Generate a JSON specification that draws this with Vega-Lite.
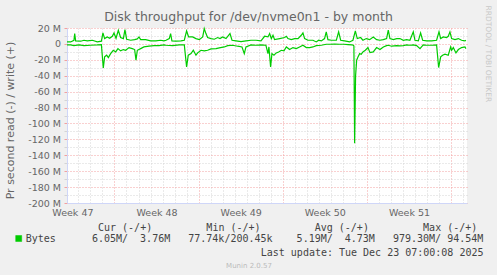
{
  "$schema": "https://vega.github.io/schema/vega-lite/v6.json",
  "width": 400,
  "height": 175,
  "autosize": {"type": "none"},
  "padding": {"left": 67, "top": 28, "right": 30, "bottom": 72},
  "background": "#f0f0f0",
  "title": {"text": "Disk throughput for /dev/nvme0n1 - by month", "font": "DejaVu Sans", "fontSize": 12.5, "fontWeight": "normal", "color": "#666666", "anchor": "middle", "dx": -18.5, "dy": 22},
  "datasets": {
    "read": [
      {"day": 3.05, "bytes_m": -1.3}, {"day": 3.35, "bytes_m": -1.3}, {"day": 3.63, "bytes_m": -2.1}, {"day": 4.05, "bytes_m": -1.3}, {"day": 4.46, "bytes_m": -2.1}, {"day": 5.02, "bytes_m": -1.7}, {"day": 5.57, "bytes_m": -1.3}, {"day": 5.91, "bytes_m": -0.8}, {"day": 6.07, "bytes_m": -30.2}, {"day": 6.18, "bytes_m": -16.3}, {"day": 6.35, "bytes_m": -14.2}, {"day": 6.49, "bytes_m": -17.2}, {"day": 6.68, "bytes_m": -12.2}, {"day": 6.9, "bytes_m": -8.0}, {"day": 7.1, "bytes_m": -10.1}, {"day": 7.29, "bytes_m": -5.9}, {"day": 7.51, "bytes_m": -8.8}, {"day": 7.74, "bytes_m": -7.1}, {"day": 7.93, "bytes_m": -8.0}, {"day": 8.21, "bytes_m": -4.6}, {"day": 8.48, "bytes_m": -5.9}, {"day": 8.68, "bytes_m": -7.1}, {"day": 8.79, "bytes_m": -20.5}, {"day": 8.9, "bytes_m": -8.0}, {"day": 9.18, "bytes_m": -5.9}, {"day": 9.45, "bytes_m": -3.8}, {"day": 9.87, "bytes_m": -2.9}, {"day": 10.29, "bytes_m": -2.1}, {"day": 10.7, "bytes_m": -2.1}, {"day": 11.12, "bytes_m": -1.3},
      {"day": 11.29, "bytes_m": -1.7}, {"day": 11.84, "bytes_m": -2.1}, {"day": 12.39, "bytes_m": -1.3}, {"day": 12.81, "bytes_m": -1.3}, {"day": 13.0, "bytes_m": -28.9}, {"day": 13.14, "bytes_m": -14.2}, {"day": 13.37, "bytes_m": -12.2}, {"day": 13.56, "bytes_m": -8.0}, {"day": 13.78, "bytes_m": -14.2}, {"day": 13.92, "bytes_m": -11.3}, {"day": 14.2, "bytes_m": -8.0}, {"day": 14.47, "bytes_m": -8.8}, {"day": 14.75, "bytes_m": -8.0}, {"day": 15.03, "bytes_m": -6.3}, {"day": 15.45, "bytes_m": -5.9}, {"day": 15.72, "bytes_m": -5.0}, {"day": 16.14, "bytes_m": -3.8}, {"day": 16.42, "bytes_m": -2.1}, {"day": 16.83, "bytes_m": -1.7}, {"day": 17.25, "bytes_m": -2.9}, {"day": 17.61, "bytes_m": -3.8}, {"day": 17.8, "bytes_m": -12.2}, {"day": 17.94, "bytes_m": -3.8}, {"day": 18.36, "bytes_m": -1.3}, {"day": 18.77, "bytes_m": -1.7}, {"day": 19.19, "bytes_m": -1.3}, {"day": 19.6, "bytes_m": -1.7},
      {"day": 19.77, "bytes_m": -12.2}, {"day": 19.85, "bytes_m": -3.8}, {"day": 19.99, "bytes_m": -28.9}, {"day": 20.1, "bytes_m": -12.2}, {"day": 20.27, "bytes_m": -14.2}, {"day": 20.46, "bytes_m": -11.3}, {"day": 20.66, "bytes_m": -10.1}, {"day": 20.88, "bytes_m": -8.0}, {"day": 21.1, "bytes_m": -8.8}, {"day": 21.3, "bytes_m": -3.8}, {"day": 21.57, "bytes_m": -7.1}, {"day": 21.85, "bytes_m": -4.6}, {"day": 22.13, "bytes_m": -5.9}, {"day": 22.4, "bytes_m": -3.8}, {"day": 22.68, "bytes_m": -1.7}, {"day": 22.96, "bytes_m": -4.6}, {"day": 23.24, "bytes_m": -4.6}, {"day": 23.51, "bytes_m": -3.8}, {"day": 23.79, "bytes_m": -2.1}, {"day": 24.21, "bytes_m": -1.7}, {"day": 24.62, "bytes_m": -0.4}, {"day": 24.9, "bytes_m": -0.4}, {"day": 25.32, "bytes_m": -0.3}, {"day": 25.73, "bytes_m": -0.4}, {"day": 26.09, "bytes_m": -0.4}, {"day": 26.43, "bytes_m": -0.8}, {"day": 26.76, "bytes_m": -1.3}, {"day": 26.87, "bytes_m": -1.7}, {"day": 26.92, "bytes_m": -2.5}, {"day": 26.98, "bytes_m": -125.0}, {"day": 27.06, "bytes_m": -40.0}, {"day": 27.15, "bytes_m": -20.5}, {"day": 27.26, "bytes_m": -16.3}, {"day": 27.4, "bytes_m": -12.2}, {"day": 27.53, "bytes_m": -13.0}, {"day": 27.67, "bytes_m": -10.1}, {"day": 27.87, "bytes_m": -8.0}, {"day": 28.09, "bytes_m": -4.6},
      {"day": 28.26, "bytes_m": -11.0}, {"day": 28.53, "bytes_m": -10.1}, {"day": 28.81, "bytes_m": -4.6}, {"day": 29.09, "bytes_m": -7.1}, {"day": 29.37, "bytes_m": -3.8}, {"day": 29.64, "bytes_m": -2.1}, {"day": 29.78, "bytes_m": -1.7}, {"day": 30.06, "bytes_m": -2.9}, {"day": 30.48, "bytes_m": -2.1}, {"day": 30.75, "bytes_m": -2.5}, {"day": 31.03, "bytes_m": -2.1}, {"day": 31.31, "bytes_m": -1.3}, {"day": 31.58, "bytes_m": -1.7}, {"day": 31.86, "bytes_m": -1.3}, {"day": 32.14, "bytes_m": -2.1}, {"day": 32.42, "bytes_m": -5.9}, {"day": 32.69, "bytes_m": -1.3}, {"day": 32.97, "bytes_m": -1.7}, {"day": 33.39, "bytes_m": -1.7}, {"day": 33.8, "bytes_m": -1.3}, {"day": 33.97, "bytes_m": -29.7}, {"day": 34.14, "bytes_m": -16.3}, {"day": 34.3, "bytes_m": -14.2}, {"day": 34.5, "bytes_m": -13.0}, {"day": 34.77, "bytes_m": -14.2}, {"day": 34.97, "bytes_m": -3.8}, {"day": 35.05, "bytes_m": -8.0}, {"day": 35.19, "bytes_m": -4.6}, {"day": 35.41, "bytes_m": -11.3}, {"day": 35.61, "bytes_m": -7.1}, {"day": 35.88, "bytes_m": -4.6}, {"day": 36.16, "bytes_m": -3.8}, {"day": 36.24, "bytes_m": -5.9}
    ],
    "write": [
      {"day": 3.05, "bytes_m": 2.5}, {"day": 3.35, "bytes_m": 2.5}, {"day": 3.63, "bytes_m": 4.6}, {"day": 3.69, "bytes_m": 13.0}, {"day": 3.77, "bytes_m": 3.8}, {"day": 4.19, "bytes_m": 3.4}, {"day": 4.46, "bytes_m": 4.6}, {"day": 4.74, "bytes_m": 3.8}, {"day": 5.16, "bytes_m": 4.6}, {"day": 5.57, "bytes_m": 2.5}, {"day": 5.91, "bytes_m": 3.4}, {"day": 6.04, "bytes_m": 13.8}, {"day": 6.18, "bytes_m": 6.7}, {"day": 6.4, "bytes_m": 8.8}, {"day": 6.6, "bytes_m": 7.1}, {"day": 6.82, "bytes_m": 9.6}, {"day": 6.96, "bytes_m": 13.8}, {"day": 7.13, "bytes_m": 7.1}, {"day": 7.32, "bytes_m": 17.2}, {"day": 7.51, "bytes_m": 8.0}, {"day": 7.74, "bytes_m": 6.7}, {"day": 7.87, "bytes_m": 18.0}, {"day": 8.01, "bytes_m": 5.9}, {"day": 8.35, "bytes_m": 4.6}, {"day": 8.68, "bytes_m": 5.4}, {"day": 8.9, "bytes_m": 6.3}, {"day": 9.04, "bytes_m": 8.8}, {"day": 9.18, "bytes_m": 5.4}, {"day": 9.59, "bytes_m": 5.4}, {"day": 10.01, "bytes_m": 3.8}, {"day": 10.43, "bytes_m": 3.8}, {"day": 10.84, "bytes_m": 4.6}, {"day": 11.12, "bytes_m": 3.8},
      {"day": 11.29, "bytes_m": 4.6}, {"day": 11.56, "bytes_m": 6.7}, {"day": 11.67, "bytes_m": 13.0}, {"day": 11.78, "bytes_m": 3.8}, {"day": 12.12, "bytes_m": 3.4}, {"day": 12.53, "bytes_m": 3.8}, {"day": 12.81, "bytes_m": 4.6}, {"day": 13.0, "bytes_m": 16.3}, {"day": 13.17, "bytes_m": 8.8}, {"day": 13.5, "bytes_m": 8.8}, {"day": 13.78, "bytes_m": 6.7}, {"day": 14.06, "bytes_m": 5.4}, {"day": 14.34, "bytes_m": 8.8}, {"day": 14.47, "bytes_m": 19.3}, {"day": 14.61, "bytes_m": 13.0}, {"day": 14.75, "bytes_m": 8.0}, {"day": 15.03, "bytes_m": 6.7}, {"day": 15.31, "bytes_m": 5.9}, {"day": 15.58, "bytes_m": 8.0}, {"day": 15.78, "bytes_m": 6.7}, {"day": 16.0, "bytes_m": 8.8}, {"day": 16.28, "bytes_m": 6.7}, {"day": 16.61, "bytes_m": 13.0}, {"day": 16.78, "bytes_m": 4.6}, {"day": 17.11, "bytes_m": 3.8}, {"day": 17.53, "bytes_m": 2.9}, {"day": 17.94, "bytes_m": 3.8}, {"day": 18.36, "bytes_m": 4.6}, {"day": 18.77, "bytes_m": 4.6}, {"day": 19.19, "bytes_m": 3.8}, {"day": 19.49, "bytes_m": 9.6},
      {"day": 19.77, "bytes_m": 8.8}, {"day": 19.91, "bytes_m": 13.0}, {"day": 20.05, "bytes_m": 6.7}, {"day": 20.19, "bytes_m": 10.9}, {"day": 20.32, "bytes_m": 5.4}, {"day": 20.74, "bytes_m": 6.7}, {"day": 21.16, "bytes_m": 8.0}, {"day": 21.3, "bytes_m": 9.6}, {"day": 21.43, "bytes_m": 6.7}, {"day": 21.71, "bytes_m": 5.4}, {"day": 21.99, "bytes_m": 6.7}, {"day": 22.27, "bytes_m": 6.7}, {"day": 22.54, "bytes_m": 10.9}, {"day": 22.68, "bytes_m": 13.8}, {"day": 22.82, "bytes_m": 6.7}, {"day": 23.1, "bytes_m": 4.6}, {"day": 23.51, "bytes_m": 4.6}, {"day": 23.79, "bytes_m": 2.5}, {"day": 23.99, "bytes_m": 4.6}, {"day": 24.21, "bytes_m": 3.8}, {"day": 24.48, "bytes_m": 6.7}, {"day": 24.62, "bytes_m": 15.1}, {"day": 24.76, "bytes_m": 5.4}, {"day": 25.04, "bytes_m": 4.6}, {"day": 25.46, "bytes_m": 4.6}, {"day": 25.65, "bytes_m": 15.1}, {"day": 25.82, "bytes_m": 4.6}, {"day": 26.15, "bytes_m": 3.8}, {"day": 26.56, "bytes_m": 2.5}, {"day": 26.84, "bytes_m": 4.6}, {"day": 27.04, "bytes_m": 16.3}, {"day": 27.2, "bytes_m": 6.7}, {"day": 27.48, "bytes_m": 8.0}, {"day": 27.67, "bytes_m": 4.6}, {"day": 27.95, "bytes_m": 6.7}, {"day": 28.23, "bytes_m": 5.4},
      {"day": 28.53, "bytes_m": 8.8}, {"day": 28.81, "bytes_m": 5.4}, {"day": 29.09, "bytes_m": 4.6}, {"day": 29.37, "bytes_m": 5.4}, {"day": 29.64, "bytes_m": 6.7}, {"day": 29.78, "bytes_m": 17.2}, {"day": 29.92, "bytes_m": 6.7}, {"day": 30.2, "bytes_m": 5.4}, {"day": 30.48, "bytes_m": 6.7}, {"day": 30.75, "bytes_m": 6.7}, {"day": 31.03, "bytes_m": 4.6}, {"day": 31.31, "bytes_m": 5.4}, {"day": 31.58, "bytes_m": 4.6}, {"day": 31.86, "bytes_m": 15.1}, {"day": 32.0, "bytes_m": 4.6}, {"day": 32.28, "bytes_m": 3.8}, {"day": 32.47, "bytes_m": 13.8}, {"day": 32.64, "bytes_m": 4.6}, {"day": 32.97, "bytes_m": 3.8}, {"day": 33.39, "bytes_m": 3.8}, {"day": 33.8, "bytes_m": 4.6}, {"day": 34.0, "bytes_m": 15.1}, {"day": 34.14, "bytes_m": 6.7}, {"day": 34.36, "bytes_m": 8.8}, {"day": 34.63, "bytes_m": 8.0}, {"day": 34.77, "bytes_m": 9.6}, {"day": 34.91, "bytes_m": 15.1}, {"day": 35.05, "bytes_m": 6.7}, {"day": 35.33, "bytes_m": 5.4}, {"day": 35.61, "bytes_m": 6.7}, {"day": 35.88, "bytes_m": 4.6}, {"day": 36.16, "bytes_m": 3.8}, {"day": 36.24, "bytes_m": 4.6}
    ]
  },
  "resolve": {"axis": {"x": "independent", "y": "independent"}},
  "layer": [
    {
      "data": {"name": "read"},
      "mark": {"type": "line", "strokeWidth": 1.2},
      "encoding": {
        "x": {"field": "day", "type": "quantitative",
          "scale": {"domain": [3.05, 36.33], "nice": false, "zero": false},
          "axis": {"orient": "bottom", "values": [4,5,6,7,8,9,10,11,12,13,14,15,16,17,18,19,20,21,22,23,24,25,26,27,28,29,30,31,32,33,34,35,36],
            "labels": false, "ticks": false, "domain": true, "domainColor": "#CFD6F8", "domainWidth": 1,
            "grid": true, "gridColor": {"condition": {"test": "datum.value % 7 === 0", "value": "#f2a0a0"}, "value": "#d4d4d4"}, "gridDash": [1, 2], "gridWidth": 1,
            "title": "Last update: Tue Dec 23 07:00:08 2025", "titleFont": "DejaVu Sans Mono", "titleFontSize": 10, "titleFontWeight": "normal", "titleColor": "#444444",
            "titleX": 416, "titleY": 52.3, "titleAlign": "right", "titleBaseline": "alphabetic", "titleAngle": 0}},
        "y": {"field": "bytes_m", "type": "quantitative",
          "scale": {"domain": [-200, 20], "nice": false, "zero": false},
          "axis": {"orient": "left", "values": [-200,-190,-180,-170,-160,-150,-140,-130,-120,-110,-100,-90,-80,-70,-60,-50,-40,-30,-20,-10,0,10,20],
            "labelExpr": "datum.value % 20 === 0 ? (datum.value === 0 ? '0' : datum.value + ' M') : ''",
            "labelFont": "DejaVu Sans", "labelFontSize": 9.5, "labelColor": "#666666", "labelPadding": 3.5, "labelFlush": false, "labelOverlap": false,
            "ticks": true, "tickSize": 3, "tickColor": {"condition": {"test": "datum.value % 20 === 0", "value": "#f2a0a0"}, "value": "#d4d4d4"},
            "domain": true, "domainColor": "#CFD6F8", "domainWidth": 1,
            "grid": true, "gridColor": {"condition": {"test": "datum.value % 20 === 0", "value": "#f2a0a0"}, "value": "#d4d4d4"}, "gridDash": [1, 2], "gridWidth": 1,
            "title": "Pr second read (-) / write (+)", "titleFont": "DejaVu Sans", "titleFontSize": 11, "titleFontWeight": "normal", "titleColor": "#666666",
            "titleX": -56.5, "titleY": 92, "titleAngle": -90, "titleAlign": "center", "titleBaseline": "middle"}},
        "color": {"datum": "Bytes", "scale": {"range": ["#00cc00"]},
          "legend": {"orient": "none", "legendX": -53.3, "legendY": 194.5, "padding": 0, "direction": "vertical",
            "title": "\u200b\u00a0\u00a0\u00a0\u00a0\u00a0\u00a0\u00a0\u00a0\u00a0\u00a0\u00a0\u00a0\u00a0\u00a0Cur\u00a0(-/+)\u00a0\u00a0\u00a0\u00a0\u00a0\u00a0\u00a0\u00a0\u00a0Min\u00a0(-/+)\u00a0\u00a0\u00a0\u00a0\u00a0\u00a0\u00a0\u00a0\u00a0Avg\u00a0(-/+)\u00a0\u00a0\u00a0\u00a0\u00a0\u00a0\u00a0\u00a0\u00a0Max\u00a0(-/+)",
            "titleFont": "DejaVu Sans Mono", "titleFontSize": 10, "titleFontWeight": "normal", "titleColor": "#444444", "titleLimit": 700, "titlePadding": 1, "titleAnchor": "start",
            "symbolType": "square", "symbolSize": 36, "symbolFillColor": "#00cc00", "symbolStrokeColor": "#00cc00", "symbolStrokeWidth": 0.5,
            "labelFont": "DejaVu Sans Mono", "labelFontSize": 10, "labelColor": "#444444", "labelLimit": 700, "labelOffset": 2,
            "labelExpr": "'Bytes\u00a0\u00a0\u00a0\u00a0\u00a0\u00a06.05M/\u00a0\u00a03.76M\u00a0\u00a0\u00a077.74k/200.45k\u00a0\u00a0\u00a0\u00a05.19M/\u00a0\u00a04.73M\u00a0\u00a0\u00a0979.30M/\u00a094.54M'"}}
      }
    },
    {
      "data": {"name": "write"},
      "mark": {"type": "line", "strokeWidth": 1.2},
      "encoding": {
        "x": {"field": "day", "type": "quantitative",
          "scale": {"domain": [3.05, 36.33], "nice": false, "zero": false},
          "axis": {"orient": "bottom", "values": [3.5, 10.5, 17.5, 24.5, 31.5],
            "labelExpr": "'Week ' + (47 + floor(datum.value / 7))",
            "labelFont": "DejaVu Sans", "labelFontSize": 9.5, "labelColor": "#666666", "labelPadding": 12.7, "labelBaseline": "alphabetic", "labelFlush": false,
            "ticks": false, "tickSize": 0, "domain": false, "grid": false,
            "title": "Munin 2.0.57", "titleFont": "DejaVu Sans", "titleFontSize": 7, "titleFontWeight": "normal", "titleColor": "#bbbbbb",
            "titleX": 181.5, "titleY": 64, "titleAlign": "center", "titleBaseline": "alphabetic", "titleAngle": 0}},
        "y": {"field": "bytes_m", "type": "quantitative",
          "scale": {"domain": [-200, 20], "nice": false, "zero": false},
          "axis": {"orient": "right", "labels": false, "ticks": false, "domain": false, "grid": false,
            "title": "RRDTOOL / TOBI OETIKER", "titleFont": "DejaVu Sans", "titleFontSize": 7.5, "titleFontWeight": "normal", "titleColor": "#c8c8c8",
            "titleX": 20.7, "titleY": 25.3, "titleAngle": 90, "titleAlign": "center", "titleBaseline": "middle"}},
        "color": {"datum": "Bytes", "scale": {"range": ["#00cc00"]},
          "legend": {"orient": "none", "legendX": -53.3, "legendY": 194.5, "padding": 0, "direction": "vertical",
            "title": "\u200b\u00a0\u00a0\u00a0\u00a0\u00a0\u00a0\u00a0\u00a0\u00a0\u00a0\u00a0\u00a0\u00a0\u00a0Cur\u00a0(-/+)\u00a0\u00a0\u00a0\u00a0\u00a0\u00a0\u00a0\u00a0\u00a0Min\u00a0(-/+)\u00a0\u00a0\u00a0\u00a0\u00a0\u00a0\u00a0\u00a0\u00a0Avg\u00a0(-/+)\u00a0\u00a0\u00a0\u00a0\u00a0\u00a0\u00a0\u00a0\u00a0Max\u00a0(-/+)",
            "titleFont": "DejaVu Sans Mono", "titleFontSize": 10, "titleFontWeight": "normal", "titleColor": "#444444", "titleLimit": 700, "titlePadding": 1, "titleAnchor": "start",
            "symbolType": "square", "symbolSize": 36, "symbolFillColor": "#00cc00", "symbolStrokeColor": "#00cc00", "symbolStrokeWidth": 0.5,
            "labelFont": "DejaVu Sans Mono", "labelFontSize": 10, "labelColor": "#444444", "labelLimit": 700, "labelOffset": 2,
            "labelExpr": "'Bytes\u00a0\u00a0\u00a0\u00a0\u00a0\u00a06.05M/\u00a0\u00a03.76M\u00a0\u00a0\u00a077.74k/200.45k\u00a0\u00a0\u00a0\u00a05.19M/\u00a0\u00a04.73M\u00a0\u00a0\u00a0979.30M/\u00a094.54M'"}}
      }
    },
    {
      "mark": {"type": "rule", "color": "#000000", "strokeWidth": 1.2},
      "encoding": {"y": {"datum": 0, "type": "quantitative", "scale": {"domain": [-200, 20], "nice": false, "zero": false}, "axis": null}}
    }
  ],
  "config": {
    "font": "DejaVu Sans",
    "view": {"fill": "#ffffff", "stroke": null}
  }
}
